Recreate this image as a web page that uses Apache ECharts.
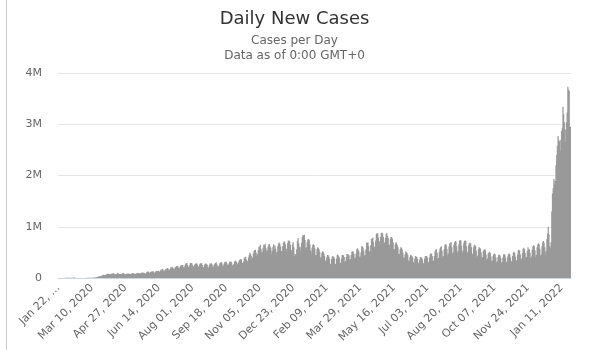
<!DOCTYPE html>
<html>
<head>
<meta charset="utf-8">
<script src="https://cdn.jsdelivr.net/npm/echarts@6/dist/echarts.min.js"></script>
<style>
html,body{margin:0;padding:0;background:#fff;}
#chart{width:589px;height:350px;}
</style>
</head>
<body>
<div id="chart"></div>
<script>
// Daily new cases, in thousands, one row per week (Wed..Tue), starting Wed Jan 22, 2020
const weeklyRows = [
[0,0.1,0.3,0.5,0.7,0.8,1.3],
[1.7,2.0,2.1,2.6,2.8,3.2,3.9],
[3.7,3.2,3.4,2.7,3.0,2.6,2.0],
[2.0,15.1,6.5,2.1,2.6,2.1,2.0],
[1.9,0.5,0.9,1.1,1.0,0.8,0.6],
[0.9,1.2,1.4,1.9,1.7,2.1,2.5],
[2.4,2.7,3.9,4.0,3.9,4.0,4.6],
[7.3,7.5,10.9,10.8,11.1,14.0,16.5],
[17.9,27.6,32.3,33.2,34.6,41.3,43.8],
[50.2,62.0,64.6,60.8,59.3,61.4,74.0],
[77.9,81.5,82.2,76.1,70.8,73.4,85.2],
[86.5,86.8,92.6,83.1,72.0,72.7,78.0],
[83,101,85,81,76,72,76],
[82,87,98,85,78,72,77],
[84,90,89,88,80,76,80],
[90,92,97,89,78,79,86],
[88,96,100,96,85,88,93],
[103,106,107,100,96,90,90],
[108,118,125,129,109,100,116],
[120,130,132,128,108,104,122],
[137,139,141,140,128,119,145],
[165,144,182,162,129,140,168],
[175,182,193,187,162,158,180],
[210,205,216,192,185,173,206],
[215,230,236,231,198,186,215],
[238,250,256,252,212,206,240],
[281,285,294,255,218,217,258],
[292,287,295,253,228,223,260],
[280,285,290,265,222,220,265],
[285,290,295,255,215,212,260],
[280,283,276,258,210,205,250],
[282,285,289,264,218,225,262],
[283,293,309,262,225,226,244],
[287,300,311,297,243,235,272],
[306,318,322,295,254,257,279],
[318,324,320,304,247,247,275],
[318,335,337,313,262,282,308],
[352,357,372,360,296,294,324],
[385,404,417,359,307,335,397],
[445,492,471,433,371,406,478],
[525,548,549,496,422,469,540],
[603,617,649,569,491,517,590],
[651,640,666,590,498,541,612],
[652,664,620,591,465,525,611],
[658,560,634,574,479,510,622],
[668,694,669,615,518,528,625],
[689,719,699,652,510,570,680],
[734,731,712,645,525,553,660],
[700,600,430,470,440,560,720],
[780,680,610,600,520,690,800],
[840,830,845,740,590,600,700],
[750,760,740,660,530,480,590],
[650,660,640,580,450,450,560],
[600,590,560,510,390,410,490],
[520,510,480,430,330,340,400],
[450,450,420,380,270,280,370],
[420,430,410,380,280,270,380],
[450,460,430,400,290,300,380],
[450,450,440,410,310,330,410],
[470,470,460,440,350,370,450],
[510,520,510,470,380,400,480],
[560,580,550,520,410,420,500],
[620,620,590,530,430,450,560],
[690,690,700,620,510,520,640],
[760,770,790,700,600,610,730],
[860,880,870,790,680,720,800],
[880,890,870,800,680,700,780],
[860,880,820,780,650,650,760],
[800,800,760,700,560,560,660],
[700,680,640,600,470,470,560],
[600,590,560,500,400,390,460],
[520,500,490,450,340,330,410],
[450,440,430,400,310,300,380],
[430,420,410,370,300,290,360],
[410,400,400,360,280,300,380],
[430,430,430,400,300,310,400],
[460,480,480,430,330,340,430],
[520,550,560,490,370,390,510],
[570,600,620,530,410,430,560],
[640,660,650,570,440,480,620],
[680,690,700,600,470,500,650],
[700,720,710,620,480,520,660],
[720,740,730,630,490,530,680],
[720,730,720,620,480,510,640],
[680,690,680,600,460,480,600],
[640,650,620,530,410,440,560],
[600,590,570,500,380,410,520],
[550,560,540,460,350,380,480],
[500,510,490,420,320,340,430],
[470,480,460,400,300,320,410],
[450,460,440,390,300,310,400],
[460,470,450,390,300,320,420],
[470,480,460,400,310,330,430],
[500,510,490,420,320,350,460],
[540,550,530,460,350,380,490],
[570,590,560,490,380,410,530],
[600,560,560,490,380,420,550],
[620,640,620,540,410,450,600],
[660,680,660,570,430,460,620],
[700,720,690,600,470,520,760],
[870,1000,850,620,580,700,1300],
[1650,1750,1930,1830,1900,2200,2400],
[2580,2770,2700,2670,2480,2700,2870],
[2920,3340,3200,3040,2650,2900,3040],
[3230,3730,3680,3650,2950,2950]
];
const startDate = [2020, 0, 22];
const tickLabels = ['Jan 22, …','Mar 10, 2020','Apr 27, 2020','Jun 14, 2020','Aug 01, 2020','Sep 18, 2020','Nov 05, 2020','Dec 23, 2020','Feb 09, 2021','Mar 29, 2021','May 16, 2021','Jul 03, 2021','Aug 20, 2021','Oct 07, 2021','Nov 24, 2021','Jan 11, 2022'];
const tickStep = 48;
const yTicks = ['0','1M','2M','3M','4M'];

const values = [].concat(...weeklyRows);
const months = ['Jan','Feb','Mar','Apr','May','Jun','Jul','Aug','Sep','Oct','Nov','Dec'];
const categories = values.map((v, i) => {
  const d = new Date(Date.UTC(startDate[0], startDate[1], startDate[2] + i));
  return months[d.getUTCMonth()] + ' ' + String(d.getUTCDate()).padStart(2,'0') + ', ' + d.getUTCFullYear();
});

const FONT = 'DejaVu Sans';
const chart = echarts.init(document.getElementById('chart'), null, {renderer:'canvas'});
chart.setOption({
  animation: false,
  backgroundColor: '#fff',
  textStyle: {fontFamily: FONT},
  title: {
    text: 'Daily New Cases',
    subtext: 'Cases per Day\nData as of 0:00 GMT+0',
    left: 'center',
    top: 5,
    itemGap: 5,
    textStyle: {fontFamily: FONT, fontSize: 18, fontWeight: 'normal', color: '#333'},
    subtextStyle: {fontFamily: FONT, fontSize: 12, color: '#666', lineHeight: 15}
  },
  graphic: [{
    type: 'line', shape: {x1: 6.5, y1: 0, x2: 6.5, y2: 350},
    style: {stroke: '#cccccc', lineWidth: 1}, silent: true
  }],
  grid: {left: 58, right: 18, top: 73, bottom: 72, containLabel: false},
  xAxis: {
    type: 'category',
    data: categories,
    boundaryGap: true,
    axisLine: {lineStyle: {color: '#ccd6eb'}},
    axisTick: {show: false},
    axisLabel: {
      interval: (idx) => idx % tickStep === 0,
      formatter: (val, idx) => tickLabels[Math.round(idx / tickStep)] || val,
      rotate: 45,
      fontSize: 11,
      color: '#666',
      margin: 8,
      fontFamily: FONT
    }
  },
  yAxis: {
    type: 'value',
    min: 0, max: 4000, interval: 1000,
    axisLine: {show: false},
    axisTick: {show: false},
    splitLine: {lineStyle: {color: '#e6e6e6'}},
    axisLabel: {
      formatter: (v) => yTicks[Math.round(v / 1000)],
      fontSize: 11, color: '#666', margin: 16, fontFamily: FONT
    }
  },
  series: [{
    type: 'bar',
    data: values,
    barWidth: 1.2,
    itemStyle: {color: '#999999'},
    large: true,
    largeThreshold: 100
  }]
});
</script>
</body>
</html>
